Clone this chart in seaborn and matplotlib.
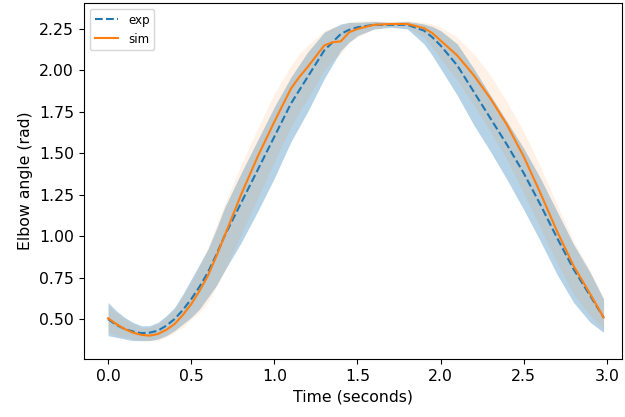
import matplotlib

matplotlib.use("Agg")

import matplotlib.pyplot as plt
import numpy as np
import pandas as pd
import seaborn as sns

# experimental trajectory: time, mean, lower and upper band edge
EXP_T = [0.0, 0.05, 0.1, 0.15, 0.2, 0.25, 0.3, 0.35, 0.4, 0.45, 0.5, 0.55, 0.6, 0.65, 0.7, 0.8, 0.9, 1.0,
         1.1, 1.2, 1.3, 1.4, 1.45, 1.5, 1.6, 1.7, 1.8, 1.9, 1.95, 2.0, 2.1, 2.2, 2.3, 2.4, 2.5, 2.6, 2.7,
         2.8, 2.9, 2.98]
EXP_MEAN = [0.50, 0.465, 0.44, 0.425, 0.415, 0.418, 0.43, 0.46, 0.50, 0.555, 0.62, 0.695, 0.78, 0.885, 1.00,
            1.20, 1.40, 1.60, 1.80, 1.96, 2.12, 2.22, 2.245, 2.26, 2.275, 2.275, 2.275, 2.24, 2.20, 2.15,
            2.03, 1.87, 1.71, 1.55, 1.38, 1.19, 0.99, 0.80, 0.64, 0.51]
EXP_LO = [0.40, 0.39, 0.38, 0.37, 0.37, 0.37, 0.38, 0.40, 0.43, 0.47, 0.51, 0.56, 0.63, 0.70, 0.79,
          0.96, 1.15, 1.35, 1.57, 1.75, 1.95, 2.12, 2.17, 2.21, 2.25, 2.26, 2.25, 2.16, 2.09, 2.01,
          1.85, 1.67, 1.51, 1.34, 1.16, 0.97, 0.77, 0.60, 0.48, 0.42]
EXP_HI = [0.60, 0.55, 0.51, 0.48, 0.46, 0.46, 0.48, 0.52, 0.57, 0.65, 0.74, 0.83, 0.92, 1.04, 1.17,
          1.38, 1.58, 1.78, 1.96, 2.11, 2.23, 2.28, 2.29, 2.29, 2.295, 2.29, 2.295, 2.28, 2.265, 2.24,
          2.16, 2.01, 1.85, 1.69, 1.53, 1.35, 1.15, 0.95, 0.78, 0.62]

# simulated trajectory
SIM_T = [0.0, 0.05, 0.1, 0.15, 0.2, 0.25, 0.3, 0.35, 0.4, 0.45, 0.5, 0.55, 0.6, 0.65, 0.7, 0.8, 0.9, 1.0,
         1.1, 1.15, 1.2, 1.3, 1.35, 1.4, 1.45, 1.5, 1.6, 1.7, 1.8, 1.9, 1.95, 2.0, 2.1, 2.2, 2.3, 2.4,
         2.5, 2.6, 2.7, 2.8, 2.9, 2.98]
SIM_MEAN = [0.505, 0.47, 0.44, 0.418, 0.405, 0.40, 0.41, 0.435, 0.47, 0.525, 0.59, 0.67, 0.76, 0.875, 1.00,
            1.25, 1.48, 1.69, 1.89, 1.96, 2.02, 2.15, 2.17, 2.175, 2.23, 2.25, 2.275, 2.28, 2.28, 2.255,
            2.225, 2.18, 2.09, 1.97, 1.83, 1.67, 1.48, 1.26, 1.03, 0.82, 0.65, 0.51]
SIM_LO = [0.42, 0.40, 0.39, 0.38, 0.37, 0.37, 0.37, 0.39, 0.42, 0.45, 0.50, 0.54, 0.60, 0.69, 0.79,
          1.01, 1.23, 1.45, 1.66, 1.75, 1.83, 2.00, 2.06, 2.10, 2.17, 2.20, 2.25, 2.265, 2.26, 2.20,
          2.14, 2.07, 1.94, 1.79, 1.63, 1.46, 1.26, 1.05, 0.84, 0.65, 0.52, 0.44]
SIM_HI = [0.58, 0.54, 0.50, 0.47, 0.45, 0.45, 0.47, 0.51, 0.56, 0.64, 0.72, 0.82, 0.93, 1.06, 1.19,
          1.43, 1.65, 1.86, 2.03, 2.10, 2.15, 2.24, 2.26, 2.27, 2.29, 2.30, 2.30, 2.295, 2.30, 2.29,
          2.28, 2.26, 2.20, 2.10, 1.97, 1.81, 1.63, 1.42, 1.19, 0.97, 0.79, 0.63]


def to_long(t, lo, mean, hi):
    # three rows per time step; median gives the mean line, min/max the band
    return pd.DataFrame({
        "time": np.repeat(t, 3),
        "angle": np.column_stack([lo, mean, hi]).ravel(),
    })


exp_df = to_long(EXP_T, EXP_LO, EXP_MEAN, EXP_HI)
sim_df = to_long(SIM_T, SIM_LO, SIM_MEAN, SIM_HI)

fig = plt.figure(figsize=(6.25, 4.17), dpi=100)
ax = fig.add_axes([0.134, 0.139, 0.861, 0.854])

sns.lineplot(data=exp_df, x="time", y="angle", estimator="median", errorbar=("pi", 100),
             color="#1f77b4", linestyle="--", label="exp", ax=ax, err_kws={"alpha": 0.33, "linewidth": 0})
sns.lineplot(data=sim_df, x="time", y="angle", estimator="median", errorbar=("pi", 100),
             color="#ff7f0e", label="sim", ax=ax, err_kws={"alpha": 0.1, "linewidth": 0})

ax.set_xlim(-0.146, 3.09)
ax.set_ylim(0.259, 2.407)
ax.set_xticks([0.0, 0.5, 1.0, 1.5, 2.0, 2.5, 3.0])
ax.set_yticks([0.5, 0.75, 1.0, 1.25, 1.5, 1.75, 2.0, 2.25])
ax.tick_params(labelsize=11.3)
ax.set_xlabel("Time (seconds)", fontsize=11.3)
ax.set_ylabel("Elbow angle (rad)", fontsize=11.3)
ax.legend(loc="upper left", fontsize=8.6)

fig.savefig("out.png", dpi=100)
